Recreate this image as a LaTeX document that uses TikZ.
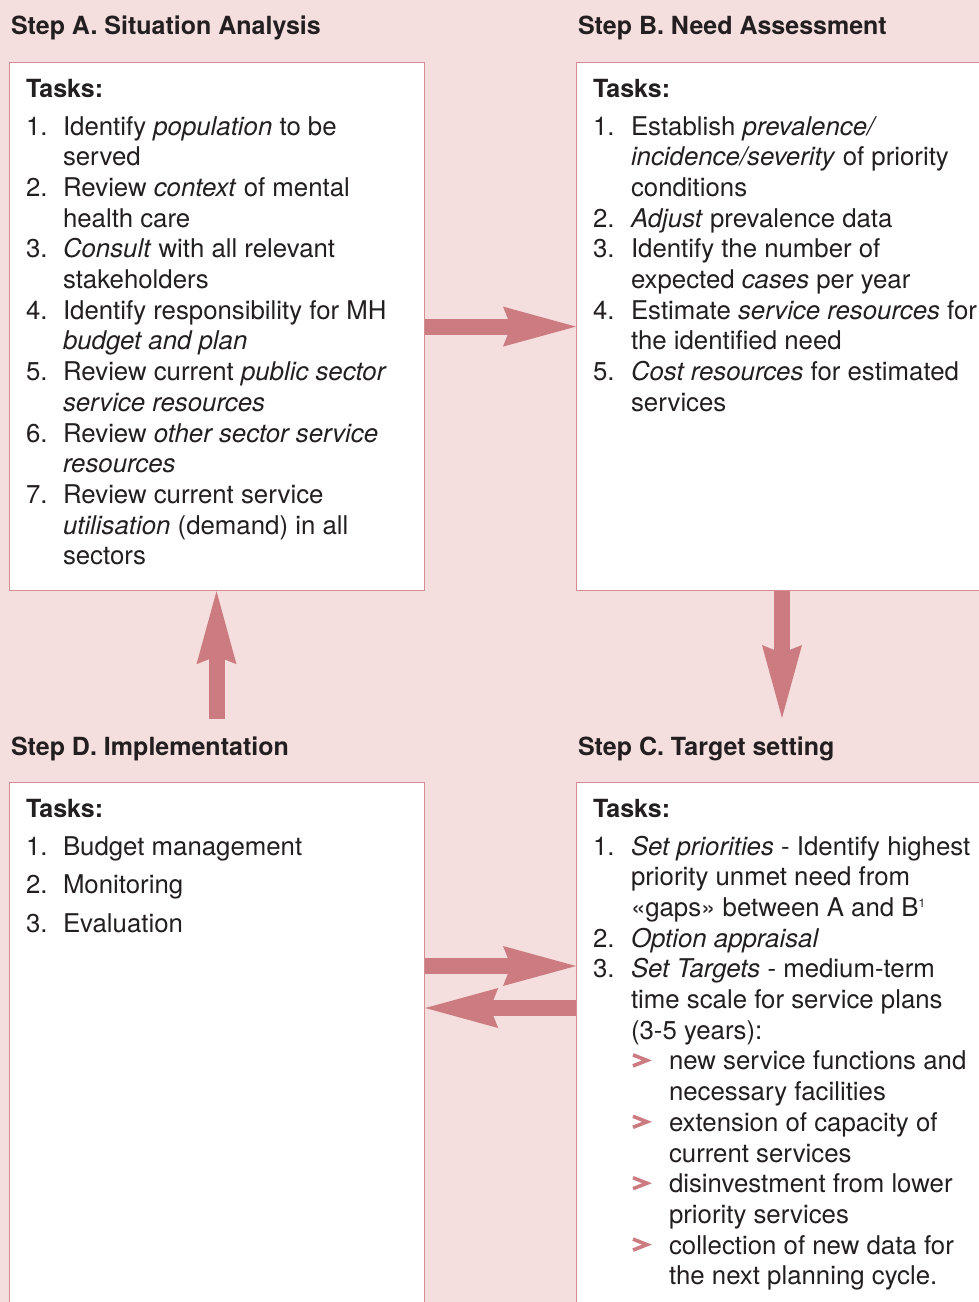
\documentclass[tikz,border=0pt]{standalone}
\usepackage{fontspec}
\setmainfont{TeX Gyre Heros}
\usetikzlibrary{arrows.meta}
\definecolor{bgc}{RGB}{244,222,222}
\definecolor{arrowc}{RGB}{204,124,128}
\definecolor{borderc}{RGB}{214,140,144}
\definecolor{txtc}{RGB}{35,31,32}
\begin{document}
\begin{tikzpicture}[x=1pt,y=-1pt,
  box/.style={draw=borderc, line width=1.2pt, fill=white, anchor=north west, inner sep=0pt},
  txt/.style={anchor=base west, inner sep=0pt, outer sep=0pt, text=txtc, font=\fontsize{25.8}{30}\selectfont},
  head/.style={txt, font=\fontsize{25}{30}\selectfont\bfseries},
  chev/.style={draw=arrowc, line width=3.6pt, line join=miter},
  bigarrow/.style={draw=arrowc, line width=16pt, -{Stealth[length=73pt, width=40pt, inset=8pt, line width=0pt]}}]
\useasboundingbox (0,0) rectangle (979,1302);
\fill[bgc] (0,0) rectangle (979,1302);
% boxes
\node[box, minimum width=415pt, minimum height=528pt] (A) at (9,62) {};
\node[box, minimum width=420pt, minimum height=528pt] (B) at (576,62) {};
\node[box, minimum width=415pt, minimum height=560pt] (D) at (9,782) {};
\node[box, minimum width=420pt, minimum height=560pt] (C) at (576,782) {};
% headings
\node[head] (hA) at (11,34) {Step A. Situation Analysis};
\node[head] (hB) at (578,34) {Step B. Need Assessment};
\node[head] (hD) at (11,755) {Step D. Implementation};
\node[head] (hC) at (578,755) {Step C. Target setting};
\node[head] (tA) at (26,97) {Tasks:};
\node[head] (tB) at (593,97) {Tasks:};
\node[head] (tD) at (26,817) {Tasks:};
\node[head] (tC) at (593,817) {Tasks:};
% Box A
\def\bb{135}
\newcommand\tl[4]{\node[txt] (#1) at (#2,{\bb+30.7*#3}) {#4};}
\newcommand\chevron[1]{\draw[chev] (633,{\bb+30.7*#1-15}) -- (647,{\bb+30.7*#1-9.5}) -- (633,{\bb+30.7*#1-4});}
\tl{an1}{26}{0}{1.}
\tl{a0}{63}{0}{Identify \textit{population} to be}
\tl{a1}{63}{1}{served}
\tl{an2}{26}{2}{2.}
\tl{a2}{63}{2}{Review \textit{context} of mental}
\tl{a3}{63}{3}{health care}
\tl{an3}{26}{4}{3.}
\tl{a4}{63}{4}{\textit{Consult} with all relevant}
\tl{a5}{63}{5}{stakeholders}
\tl{an4}{26}{6}{4.}
\tl{a6}{63}{6}{Identify responsibility for MH}
\tl{a7}{63}{7}{\textit{budget and plan}}
\tl{an5}{26}{8}{5.}
\tl{a8}{63}{8}{Review current \textit{public sector}}
\tl{a9}{63}{9}{\textit{service resources}}
\tl{an6}{26}{10}{6.}
\tl{a10}{63}{10}{Review \textit{other sector service}}
\tl{a11}{63}{11}{\textit{resources}}
\tl{an7}{26}{12}{7.}
\tl{a12}{63}{12}{Review current service}
\tl{a13}{63}{13}{\textit{utilisation} (demand) in all}
\tl{a14}{63}{14}{sectors}
% Box B
\tl{bn1}{593}{0}{1.}
\tl{b0}{631}{0}{Establish \textit{prevalence/}}
\tl{b1}{631}{1}{\textit{incidence/severity} of priority}
\tl{b2}{631}{2}{conditions}
\tl{bn2}{593}{3}{2.}
\tl{b3}{631}{3}{\textit{Adjust} prevalence data}
\tl{bn3}{593}{4}{3.}
\tl{b4}{631}{4}{Identify the number of}
\tl{b5}{631}{5}{expected \textit{cases} per year}
\tl{bn4}{593}{6}{4.}
\tl{b6}{631}{6}{Estimate \textit{service resources} for}
\tl{b7}{631}{7}{the identified need}
\tl{bn5}{593}{8}{5.}
\tl{b8}{631}{8}{\textit{Cost resources} for estimated}
\tl{b9}{631}{9}{services}
% Box C
\def\bb{855}
\tl{cn1}{593}{0}{1.}
\tl{c0}{631}{0}{\textit{Set priorities} - Identify highest}
\tl{c1}{631}{1}{priority unmet need from}
\tl{c2}{631}{2}{«gaps» between A and B{\fontsize{12}{12}\selectfont\raisebox{9pt}{1}}}
\tl{cn2}{593}{3}{2.}
\tl{c3}{631}{3}{\textit{Option appraisal}}
\tl{cn3}{593}{4}{3.}
\tl{c4}{631}{4}{\textit{Set Targets} - medium-term}
\tl{c5}{631}{5}{time scale for service plans}
\tl{c6}{631}{6}{(3-5 years):}
\chevron{7}
\tl{c7}{669}{7}{new service functions and}
\tl{c8}{669}{8}{necessary facilities}
\chevron{9}
\tl{c9}{669}{9}{extension of capacity of}
\tl{c10}{669}{10}{current services}
\chevron{11}
\tl{c11}{669}{11}{disinvestment from lower}
\tl{c12}{669}{12}{priority services}
\chevron{13}
\tl{c13}{669}{13}{collection of new data for}
\tl{c14}{669}{14}{the next planning cycle.}
% Box D
\node[txt] (dn1) at (26,855) {1.};
\node[txt] (d0) at (63,855) {Budget management};
\node[txt] (dn2) at (26,893.5) {2.};
\node[txt] (d1) at (63,893.5) {Monitoring};
\node[txt] (dn3) at (26,932) {3.};
\node[txt] (d2) at (63,932) {Evaluation};
% arrows
\coordinate (upTail) at (216.5,719);
\coordinate (dnHead) at (782,718);
\draw[bigarrow] (A.east) -- (B.west);
\draw[bigarrow] (dnHead |- B.south) -- (dnHead);
\draw[bigarrow] (upTail) -- (upTail |- A.south);
\draw[bigarrow] ([yshift=-184pt]D.north east) -- ([yshift=-184pt]C.north west);
\draw[bigarrow] ([yshift=-226pt]C.north west) -- ([yshift=-226pt]D.north east);
\end{tikzpicture}
\end{document}
